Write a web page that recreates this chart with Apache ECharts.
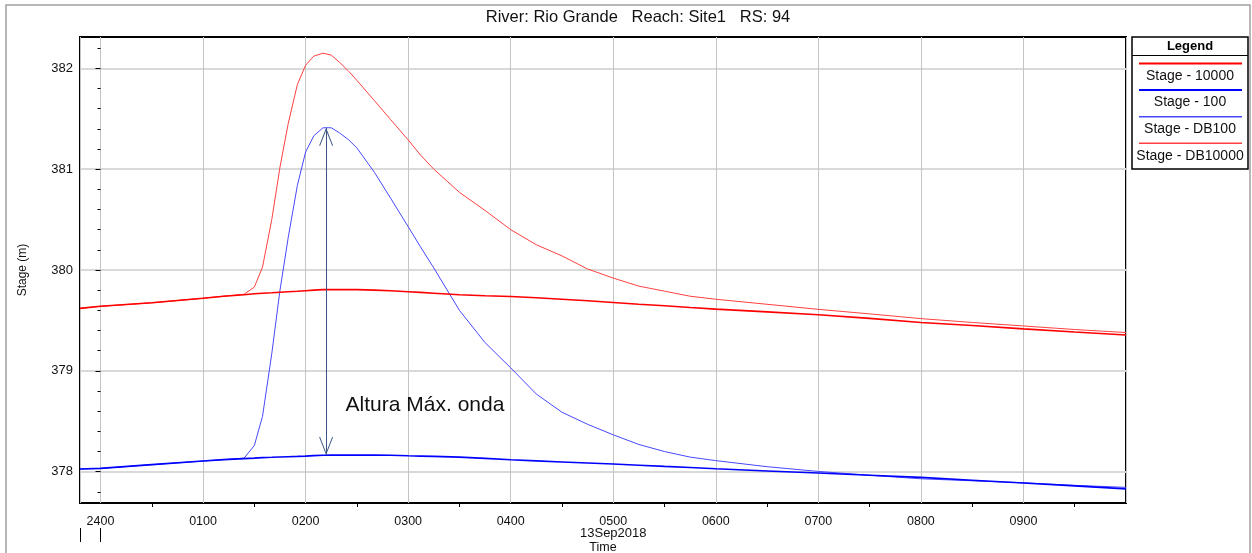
<!DOCTYPE html>
<html><head><meta charset="utf-8">
<script src="https://cdn.jsdelivr.net/npm/echarts@6/dist/echarts.min.js"></script>
<style>html,body{margin:0;padding:0;background:#fff}#c{width:1252px;height:553px}</style>
</head><body><div id="c"></div><script>
// ---------- DATA ----------
const titleText = 'River: Rio Grande   Reach: Site1   RS: 94';
const seriesNames = ['Stage - 10000', 'Stage - 100', 'Stage - DB100', 'Stage - DB10000'];
// time in hours after 2400 (midnight) of 13Sep2018
const hours = [-0.2, 0, 0.5, 1.0, 1.2, 1.4, 1.5, 1.58, 1.67, 1.75, 1.83, 1.92, 2.0, 2.08, 2.17, 2.25, 2.33, 2.42, 2.5, 2.67, 2.83, 3.0, 3.12, 3.25, 3.5, 3.75, 4.0, 4.25, 4.5, 4.75, 5.0, 5.25, 5.5, 5.75, 6.0, 6.5, 7.0, 7.5, 8.0, 8.5, 9.0, 9.5, 10.0];
const stage10000 = [379.62, 379.64, 379.675, 379.72, 379.74, 379.755, 379.765, 379.77, 379.775, 379.78, 379.785, 379.79, 379.795, 379.80, 379.805, 379.805, 379.805, 379.805, 379.805, 379.80, 379.795, 379.785, 379.778, 379.77, 379.755, 379.745, 379.737, 379.725, 379.71, 379.695, 379.678, 379.66, 379.645, 379.628, 379.612, 379.585, 379.557, 379.52, 379.48, 379.45, 379.416, 379.385, 379.356];
const stageDB10000 = [379.62, 379.64, 379.675, 379.72, 379.74, 379.76, 379.83, 380.03, 380.50, 381.02, 381.45, 381.84, 382.03, 382.12, 382.15, 382.13, 382.06, 381.97, 381.88, 381.68, 381.49, 381.29, 381.14, 381.00, 380.77, 380.59, 380.40, 380.25, 380.14, 380.01, 379.92, 379.84, 379.79, 379.74, 379.71, 379.66, 379.61, 379.565, 379.518, 379.48, 379.445, 379.41, 379.38];
const stage100 = [378.027, 378.033, 378.07, 378.106, 378.12, 378.13, 378.135, 378.14, 378.143, 378.146, 378.149, 378.152, 378.155, 378.16, 378.163, 378.165, 378.165, 378.165, 378.165, 378.165, 378.163, 378.158, 378.155, 378.152, 378.145, 378.132, 378.119, 378.108, 378.097, 378.086, 378.076, 378.065, 378.053, 378.042, 378.03, 378.008, 377.987, 377.965, 377.944, 377.916, 377.888, 377.86, 377.83];
const stageDB100 = [378.027, 378.033, 378.07, 378.106, 378.12, 378.135, 378.26, 378.55, 379.17, 379.80, 380.32, 380.84, 381.17, 381.33, 381.41, 381.41, 381.36, 381.29, 381.21, 380.97, 380.71, 380.43, 380.23, 380.02, 379.60, 379.28, 379.03, 378.77, 378.59, 378.47, 378.366, 378.27, 378.20, 378.145, 378.11, 378.05, 378.003, 377.965, 377.93, 377.91, 377.89, 377.865, 377.845];
const xTickLabels = ['2400', '0100', '0200', '0300', '0400', '0500', '0600', '0700', '0800', '0900'];
const yTickValues = [378, 379, 380, 381, 382];
const dateLabel = '13Sep2018';
const dateHour = [5];
const dayMarks = [-0.2, 0];
const arrowHour = [2.2];
const arrowStages = [381.41, 378.165];
const noteText = 'Altura Máx. onda';
const notePos = [2.39, 378.66];

// ---------- CHART ----------
const FONT = '"Liberation Sans", Arial, sans-serif';
const pair = arr => hours.map((h, i) => [h, arr[i]]);
const chevron = 'path://M0,0 L7,18 L6,18 L0,2.6 L-6,18 L-7,18 Z';
const colors = { r: '#ff0000', rl: '#ff4040', b: '#0000ff', bl: '#4848ff' };
const legendColors = [colors.r, colors.b, colors.bl, colors.rl];
const legendWidths = [1.6, 1.6, 1, 1];

const chart = echarts.init(document.getElementById('c'), null, { renderer: 'canvas' });

const legendEls = [
  { type: 'rect', shape: { x: 1132, y: 37, width: 116, height: 132 }, style: { fill: '#fff', stroke: '#000', lineWidth: 1.5 } },
  { type: 'text', x: 1190, y: 46, style: { text: 'Legend', font: 'bold 13px ' + FONT, fill: '#000', align: 'center', verticalAlign: 'middle' } },
  { type: 'line', shape: { x1: 1132, y1: 55.5, x2: 1248, y2: 55.5 }, style: { stroke: '#000', lineWidth: 1 } }
];
seriesNames.forEach((n, i) => {
  const y0 = 63.5 + i * 26.6;
  legendEls.push({ type: 'line', shape: { x1: 1139, y1: y0, x2: 1242, y2: y0 }, style: { stroke: legendColors[i], lineWidth: legendWidths[i] + 0.4 } });
  legendEls.push({ type: 'text', x: 1190, y: y0 + 12.5, style: { text: n, font: '14px ' + FONT, fill: '#111', align: 'center', verticalAlign: 'middle' } });
});

const option = {
  animation: false,
  textStyle: { fontFamily: FONT },
  grid: { left: 80, right: 126, top: 37, bottom: 50, show: true, borderColor: '#000', borderWidth: 2, backgroundColor: 'transparent', containLabel: false, outerBoundsMode: 'none' },
  xAxis: [{
    type: 'value', min: -0.2, max: 10, splitNumber: 10,
    axisLine: { show: false },
    axisTick: { show: false },
    minorTick: { show: true, splitNumber: 2, length: 4, lineStyle: { color: '#000', width: 1 } },
    splitLine: { show: true, lineStyle: { color: '#c4c4c4', width: 1 } },
    axisLabel: {
      margin: 12, color: '#111', fontSize: 12.5, fontFamily: FONT,
      formatter: v => { const r = Math.round(v); return (Math.abs(v - r) < 1e-6 && r >= 0 && r < xTickLabels.length) ? xTickLabels[r] : ''; }
    },
    name: 'Time', nameLocation: 'middle', nameGap: 38,
    nameTextStyle: { color: '#111', fontSize: 12.5, fontFamily: FONT }
  }, {
    type: 'value', min: -0.2, max: 10, position: 'bottom', offset: 25, gridIndex: 0,
    axisLine: { show: false },
    axisTick: { show: true, customValues: dayMarks, length: 14, lineStyle: { color: '#000', width: 1 } },
    splitLine: { show: false },
    axisLabel: { show: true, customValues: dateHour, margin: -1, color: '#111', fontSize: 13, fontFamily: FONT, formatter: () => dateLabel }
  }],
  yAxis: {
    type: 'value', min: 377.69, max: 382.31, splitNumber: 5,
    axisLine: { show: false },
    axisTick: { show: true, customValues: yTickValues, length: 5, lineStyle: { color: '#000', width: 1 } },
    minorTick: { show: true, splitNumber: 5, length: 3, lineStyle: { color: '#000', width: 1 } },
    splitLine: { show: true, lineStyle: { color: '#d9d9d9', width: 2 } },
    axisLabel: { customValues: yTickValues, margin: 7, color: '#111', fontSize: 13, fontFamily: FONT, formatter: v => String(Math.round(v)) },
    name: 'Stage (m)', nameLocation: 'middle', nameGap: 51,
    nameTextStyle: { color: '#111', fontSize: 12, fontFamily: FONT }
  },
  series: [
    { type: 'line', name: seriesNames[3], data: pair(stageDB10000), showSymbol: false, symbol: 'none', lineStyle: { color: colors.rl, width: 1 }, z: 2 },
    { type: 'line', name: seriesNames[2], data: pair(stageDB100), showSymbol: false, symbol: 'none', lineStyle: { color: colors.bl, width: 1 }, z: 2,
      markLine: {
        silent: true, animation: false,
        symbol: [chevron, chevron], symbolSize: [14, 18], symbolOffset: [[0, 9], [0, 9]],
        lineStyle: { color: '#3a5585', width: 1, type: 'solid' },
        label: { show: false },
        data: [[{ coord: [arrowHour[0], arrowStages[0]] }, { coord: [arrowHour[0], arrowStages[1]] }]]
      },
      markPoint: {
        silent: true, animation: false, symbol: 'rect', symbolSize: 0,
        label: { show: true, position: 'right', distance: 0, formatter: () => noteText, color: '#111', fontSize: 21, fontFamily: FONT },
        data: [{ coord: notePos }]
      }
    },
    { type: 'line', name: seriesNames[0], data: pair(stage10000), showSymbol: false, symbol: 'none', lineStyle: { color: colors.r, width: 1.6 }, z: 3 },
    { type: 'line', name: seriesNames[1], data: pair(stage100), showSymbol: false, symbol: 'none', lineStyle: { color: colors.b, width: 1.6 }, z: 3 }
  ],
  graphic: [
    { type: 'rect', shape: { x: 6, y: 5, width: 1244, height: 560 }, style: { fill: 'none', stroke: '#a0a0a0', lineWidth: 1.5 }, z: -10 },
    { type: 'text', x: 638, y: 17, style: { text: titleText, font: '16.5px ' + FONT, fill: '#111', align: 'center', verticalAlign: 'middle' } },
    { type: 'group', children: legendEls }
  ]
};
chart.setOption(option);
</script></body></html>
